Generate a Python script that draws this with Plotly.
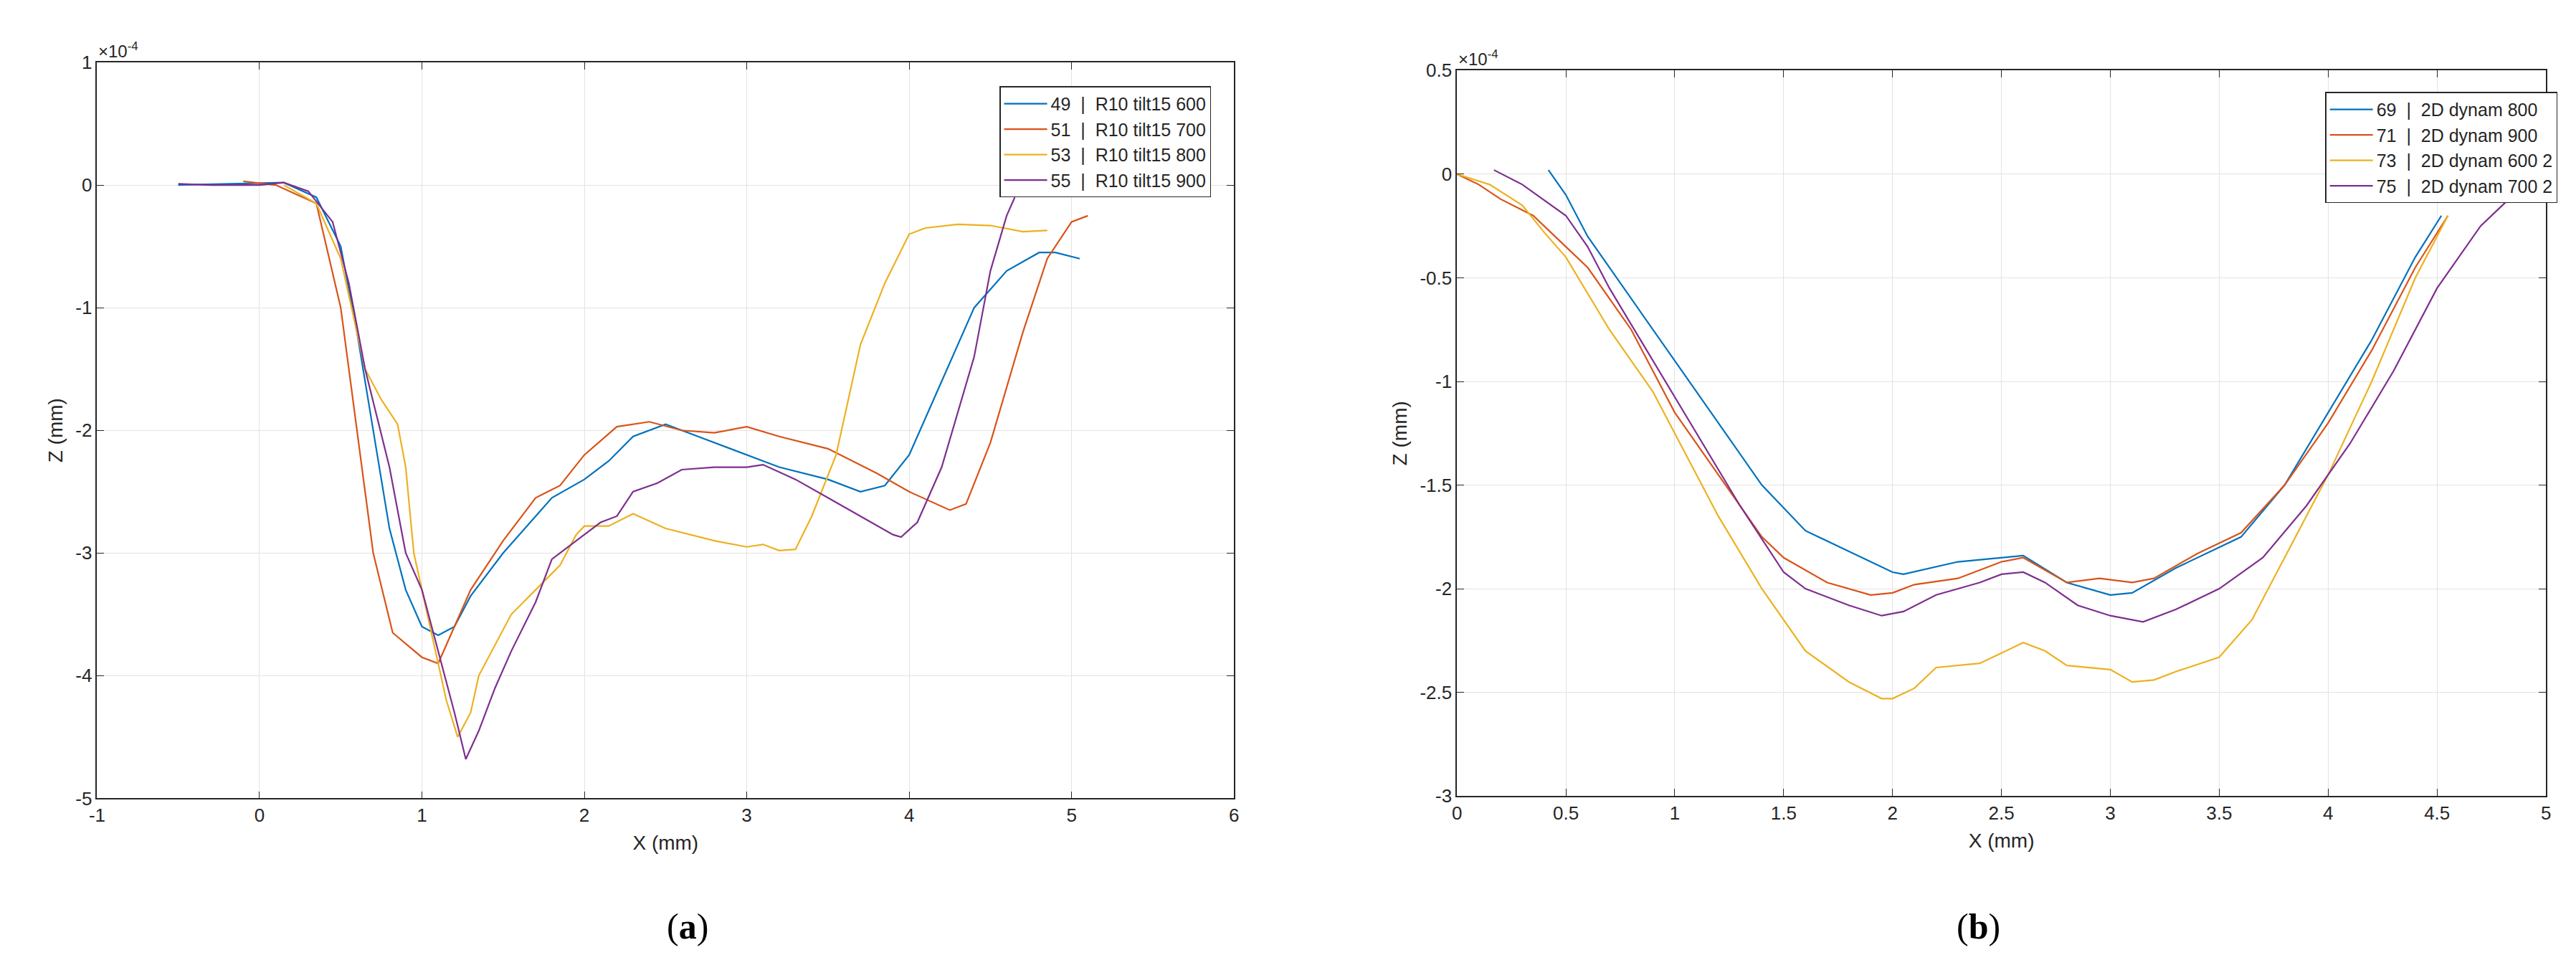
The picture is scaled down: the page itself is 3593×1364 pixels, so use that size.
import plotly.graph_objects as go

# Z values in units of 1e-4 mm
a49_x=[-0.5,0.15,0.35,0.5,0.6,0.7,0.8,0.9,1.0,1.1,1.2,1.3,1.5,1.7,1.8,2.0,2.15,2.3,2.5,2.7,3.0,3.2,3.5,3.7,3.85,4.0,4.2,4.4,4.6,4.8,4.9,5.05]
a49_z=[0,0.02,-0.1,-0.5,-1.2,-2.0,-2.8,-3.3,-3.6,-3.67,-3.6,-3.35,-3.0,-2.7,-2.55,-2.4,-2.25,-2.05,-1.95,-2.05,-2.2,-2.3,-2.4,-2.5,-2.45,-2.2,-1.6,-1.0,-0.7,-0.55,-0.55,-0.6]
a51_x=[-0.1,0.1,0.35,0.5,0.6,0.7,0.82,1.0,1.1,1.2,1.3,1.5,1.7,1.85,2.0,2.2,2.4,2.6,2.8,3.0,3.2,3.5,3.8,4.0,4.25,4.35,4.5,4.7,4.85,5.0,5.1]
a51_z=[0.03,0,-0.15,-1.0,-2.0,-3.0,-3.65,-3.85,-3.9,-3.6,-3.3,-2.9,-2.55,-2.45,-2.2,-1.97,-1.93,-2.0,-2.02,-1.97,-2.05,-2.15,-2.35,-2.5,-2.65,-2.6,-2.1,-1.2,-0.6,-0.3,-0.25]
a53_x=[0.15,0.35,0.5,0.6,0.65,0.75,0.85,0.9,0.95,1.05,1.15,1.22,1.3,1.35,1.55,1.7,1.85,1.95,2.0,2.15,2.3,2.5,2.8,3.0,3.1,3.2,3.3,3.4,3.55,3.7,3.85,4.0,4.1,4.3,4.5,4.7,4.85]
a53_z=[0,-0.15,-0.6,-1.2,-1.5,-1.75,-1.95,-2.3,-3.0,-3.6,-4.2,-4.5,-4.3,-4.0,-3.5,-3.3,-3.1,-2.85,-2.78,-2.78,-2.68,-2.8,-2.9,-2.95,-2.93,-2.98,-2.97,-2.7,-2.2,-1.3,-0.8,-0.4,-0.35,-0.32,-0.33,-0.38,-0.37]
a55_x=[-0.5,-0.3,0,0.15,0.3,0.45,0.55,0.65,0.8,0.9,1.0,1.1,1.2,1.27,1.35,1.45,1.55,1.7,1.8,2.0,2.1,2.2,2.3,2.45,2.6,2.8,3.0,3.1,3.3,3.5,3.7,3.9,3.95,4.05,4.2,4.4,4.5,4.6,4.65]
a55_z=[0.01,0,0,0.02,-0.05,-0.3,-0.8,-1.5,-2.3,-3.0,-3.3,-3.8,-4.3,-4.68,-4.45,-4.1,-3.8,-3.4,-3.05,-2.85,-2.75,-2.7,-2.5,-2.43,-2.32,-2.3,-2.3,-2.28,-2.4,-2.55,-2.7,-2.85,-2.87,-2.75,-2.3,-1.4,-0.7,-0.25,-0.1]

b69_x=[0.42,0.5,0.6,0.8,1.0,1.2,1.4,1.6,1.8,2.0,2.05,2.3,2.6,2.8,3.0,3.1,3.3,3.6,3.8,4.0,4.2,4.4,4.52]
b69_z=[0.02,-0.1,-0.3,-0.6,-0.9,-1.2,-1.5,-1.72,-1.82,-1.92,-1.93,-1.87,-1.84,-1.97,-2.03,-2.02,-1.9,-1.75,-1.5,-1.15,-0.8,-0.4,-0.2]
b71_x=[0,0.1,0.2,0.35,0.5,0.6,0.8,1.0,1.2,1.4,1.5,1.7,1.9,2.0,2.1,2.3,2.5,2.6,2.8,2.95,3.1,3.2,3.4,3.6,3.8,4.0,4.2,4.4,4.55]
b71_z=[0,-0.05,-0.12,-0.2,-0.35,-0.45,-0.75,-1.15,-1.45,-1.75,-1.85,-1.97,-2.03,-2.02,-1.98,-1.95,-1.87,-1.85,-1.97,-1.95,-1.97,-1.95,-1.83,-1.73,-1.5,-1.2,-0.85,-0.45,-0.2]
b73_x=[0,0.15,0.3,0.4,0.5,0.7,0.9,1.0,1.2,1.4,1.6,1.8,1.95,2.0,2.1,2.2,2.4,2.6,2.7,2.8,3.0,3.1,3.2,3.3,3.5,3.65,3.8,4.0,4.2,4.4,4.55]
b73_z=[0,-0.05,-0.15,-0.28,-0.4,-0.75,-1.05,-1.25,-1.65,-2.0,-2.3,-2.45,-2.53,-2.53,-2.48,-2.38,-2.36,-2.26,-2.3,-2.37,-2.39,-2.45,-2.44,-2.4,-2.33,-2.15,-1.85,-1.45,-1.0,-0.5,-0.2]
b75_x=[0.17,0.3,0.5,0.6,0.7,0.9,1.1,1.3,1.5,1.6,1.8,1.95,2.05,2.2,2.4,2.5,2.6,2.7,2.85,3.0,3.15,3.3,3.5,3.7,3.9,4.1,4.3,4.5,4.7,4.85,5.0]
b75_z=[0.02,-0.05,-0.2,-0.35,-0.55,-0.9,-1.25,-1.6,-1.92,-2.0,-2.08,-2.13,-2.11,-2.03,-1.97,-1.93,-1.92,-1.97,-2.08,-2.13,-2.16,-2.1,-2.0,-1.85,-1.6,-1.3,-0.95,-0.55,-0.25,-0.1,-0.05]

ax_a_x=[-1,0,1,2,3,4,5,6]
ax_a_y=[-5,-4,-3,-2,-1,0,1]
ax_b_x=[0,0.5,1,1.5,2,2.5,3,3.5,4,4.5,5]
ax_b_y=[-3,-2.5,-2,-1.5,-1,-0.5,0,0.5]
def lab(v): return [("%g" % t) for t in v]

colors=["#0072BD","#D95319","#EDB120","#7E2F8E"]
left=[("49  |  R10 tilt15 600",a49_x,a49_z),("51  |  R10 tilt15 700",a51_x,a51_z),
      ("53  |  R10 tilt15 800",a53_x,a53_z),("55  |  R10 tilt15 900",a55_x,a55_z)]
right=[("69  |  2D dynam 800",b69_x,b69_z),("71  |  2D dynam 900",b71_x,b71_z),
       ("73  |  2D dynam 600 2",b73_x,b73_z),("75  |  2D dynam 700 2",b75_x,b75_z)]

fig=go.Figure()
for i,(n,x,z) in enumerate(left):
    fig.add_trace(go.Scatter(x=x,y=z,name=n,mode="lines",line=dict(color=colors[i],width=2.2),xaxis="x",yaxis="y",legend="legend"))
for i,(n,x,z) in enumerate(right):
    fig.add_trace(go.Scatter(x=x,y=z,name=n,mode="lines",line=dict(color=colors[i],width=2.2),xaxis="x2",yaxis="y2",legend="legend2"))

F="Liberation Sans"
ax=dict(showline=True,mirror="ticks",linecolor="#262626",linewidth=1.5,ticks="inside",ticklen=10,tickcolor="#262626",
        showgrid=True,gridcolor="#e3e3e3",zeroline=False,tickfont=dict(size=26,color="#262626",family=F),
        title_font=dict(size=28,color="#262626",family=F))
legf=dict(size=25,color="#262626",family=F)
fig.update_layout(
    width=3593,height=1364,paper_bgcolor="white",plot_bgcolor="white",margin=dict(l=0,r=0,t=0,b=0),
    xaxis=dict(ax,domain=[0.0323,0.476],range=[-1,6],tickvals=ax_a_x,ticktext=lab(ax_a_x),title=dict(text="X (mm)",standoff=14),anchor="y"),
    yaxis=dict(ax,domain=[0.1826,0.952],range=[-5,1],tickvals=ax_a_y,ticktext=lab(ax_a_y),title=dict(text="Z (mm)",standoff=10),anchor="x"),
    xaxis2=dict(ax,domain=[0.563,0.988],range=[0,5],tickvals=ax_b_x,ticktext=lab(ax_b_x),title=dict(text="X (mm)",standoff=14),anchor="y2"),
    yaxis2=dict(ax,domain=[0.185,0.9435],range=[-3,0.5],tickvals=ax_b_y,ticktext=lab(ax_b_y),title=dict(text="Z (mm)",standoff=10),anchor="x2"),
    legend=dict(x=0.467,y=0.927,xanchor="right",yanchor="top",bordercolor="#262626",borderwidth=1.5,bgcolor="white",
                font=legf,tracegroupgap=0,itemwidth=60),
    legend2=dict(x=0.9925,y=0.921,xanchor="right",yanchor="top",bordercolor="#262626",borderwidth=1.5,bgcolor="white",
                font=legf,tracegroupgap=0,itemwidth=60),
    showlegend=True,
    annotations=[
        dict(text="×10<sup>-4</sup>",x=0.0323,y=0.952,xref="paper",yref="paper",xanchor="left",yanchor="bottom",showarrow=False,font=dict(size=24,color="#262626",family=F)),
        dict(text="×10<sup>-4</sup>",x=0.563,y=0.9435,xref="paper",yref="paper",xanchor="left",yanchor="bottom",showarrow=False,font=dict(size=24,color="#262626",family=F)),
        dict(text="(<b>a</b>)",x=0.254,y=0.026,xref="paper",yref="paper",showarrow=False,font=dict(size=50,color="black",family="Liberation Serif")),
        dict(text="(<b>b</b>)",x=0.7755,y=0.026,xref="paper",yref="paper",showarrow=False,font=dict(size=50,color="black",family="Liberation Serif")),
    ])
fig.write_html("out.html")
